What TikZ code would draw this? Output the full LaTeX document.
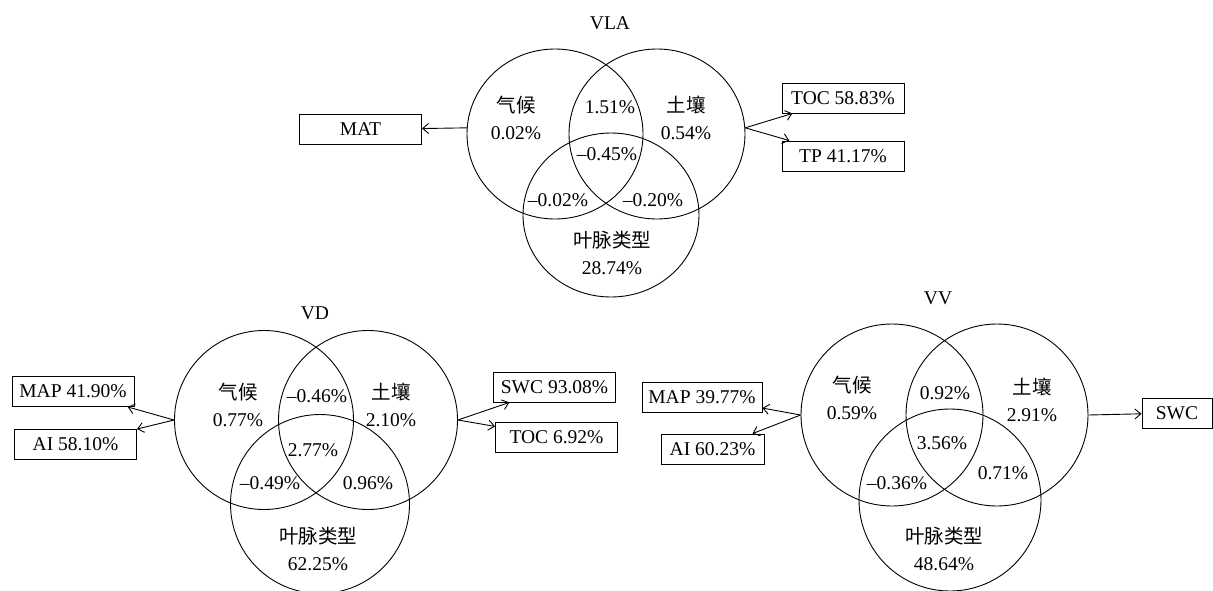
\documentclass[tikz,border=0pt]{standalone}
\usepackage{fontspec}
\setmainfont{Liberation Serif}
\newfontfamily\cjk{Noto Sans CJK SC}
\usepackage{tikz}
\usetikzlibrary{shapes.geometric,arrows.meta}
\tikzstyle{set}=[draw,circle,inner sep=0pt,minimum size=179pt,line width=0.9pt]
\tikzstyle{oset}=[draw,ellipse,inner sep=0pt,minimum width=176pt,line width=0.9pt]
\tikzstyle{factor}=[draw,rectangle,inner sep=0pt,minimum width=122pt,minimum height=30pt,line width=0.9pt]
\tikzstyle{part}=[align=center,inner sep=0pt]
\tikzstyle{link}=[line width=0.9pt,-{Straight Barb[length=6pt,width=10pt]}]

\begin{document}
\begin{tikzpicture}[x=1pt,y=-1pt,font=\fontsize{19.5}{27}\selectfont]
          \useasboundingbox (0,0) rectangle (1213,590);

          % VLA
          \node (vlaT) at (610,23) {VLA};
          \node[oset,minimum height=170pt] (vlaC) at (555,134) {};
          \node[oset,minimum height=170pt] (vlaS) at (657,134) {};
          \node[oset,minimum height=164pt] (vlaL) at (611,215) {};
          \node[part] (vlaC1) at (516,118) {{\cjk 气候}\\0.02\%};
          \node[part] (vlaS1) at (686,118) {{\cjk 土壤}\\0.54\%};
          \node[part] (vlaCS) at (610,107) {1.51\%};
          \node[part] (vlaCSL) at (607,154) {–0.45\%};
          \node[part] (vlaCL) at (558,200) {–0.02\%};
          \node[part] (vlaSL) at (653,200) {–0.20\%};
          \node[part] (vlaL1) at (612,253) {{\cjk 叶脉类型}\\28.74\%};
          \node[factor] (vlaMAT) at (360.5,129.5) {MAT};
          \node[factor] (vlaTOC) at (843,98) {TOC 58.83\%};
          \node[factor] (vlaTP) at (843,156) {TP 41.17\%};
          \draw[link] (vlaC.176) -- (vlaMAT);
          \draw[link] (vlaS.4) -- (vlaTOC);
          \draw[link] (vlaS.4) -- (vlaTP);

          % VD
          \node (vdT) at (315,313) {VD};
          \node[set] (vdC) at (264,420) {};
          \node[set] (vdS) at (368,420) {};
          \node[set] (vdL) at (320,504) {};
          \node[part] (vdC1) at (238,405) {{\cjk 气候}\\0.77\%};
          \node[part] (vdS1) at (391,405) {{\cjk 土壤}\\2.10\%};
          \node[part] (vdCS) at (317,396) {–0.46\%};
          \node[part] (vdCSL) at (313,450) {2.77\%};
          \node[part] (vdCL) at (270,483) {–0.49\%};
          \node[part] (vdSL) at (368,483) {0.96\%};
          \node[part] (vdL1) at (318,549) {{\cjk 叶脉类型}\\62.25\%};
          \node[factor] (vdMAP) at (73,391.5) {MAP 41.90\%};
          \node[factor] (vdAI) at (75.5,444) {AI 58.10\%};
          \node[factor] (vdSWC) at (554.5,387) {SWC 93.08\%};
          \node[factor] (vdTOC) at (556.5,437) {TOC 6.92\%};
          \draw[link] (vdC.west) -- (vdMAP);
          \draw[link] (vdC.west) -- (vdAI);
          \draw[link] (vdS.east) -- (vdSWC);
          \draw[link] (vdS.east) -- (vdTOC);

          % VV
          \node (vvT) at (938,298) {VV};
          \node[set,minimum size=182pt] (vvC) at (892,415) {};
          \node[set,minimum size=182pt] (vvS) at (997,415) {};
          \node[set,minimum size=182pt] (vvL) at (950,500) {};
          \node[part] (vvC1) at (852,398) {{\cjk 气候}\\0.59\%};
          \node[part] (vvS1) at (1032,400) {{\cjk 土壤}\\2.91\%};
          \node[part] (vvCS) at (945,393) {0.92\%};
          \node[part] (vvCSL) at (942,443) {3.56\%};
          \node[part] (vvCL) at (897,483) {–0.36\%};
          \node[part] (vvSL) at (1003,473) {0.71\%};
          \node[part] (vvL1) at (944,549) {{\cjk 叶脉类型}\\48.64\%};
          \node[factor,minimum width=120pt] (vvMAP) at (702,397) {MAP 39.77\%};
          \node[factor,minimum width=103pt] (vvAI) at (712.5,449) {AI 60.23\%};
          \node[factor,minimum width=70pt] (vvSWC) at (1177,413) {SWC};
          \draw[link] (vvC.west) -- (vvMAP);
          \draw[link] (vvC.west) -- (vvAI);
          \draw[link] (vvS.east) -- (vvSWC);
        \end{tikzpicture}
\end{document}
